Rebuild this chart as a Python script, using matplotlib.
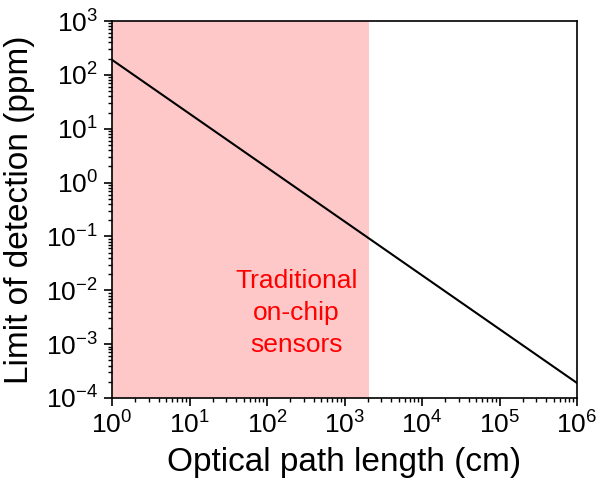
import numpy as np
import matplotlib.pyplot as plt
from matplotlib.ticker import LogLocator, NullFormatter

plt.rcParams['font.family'] = ['Liberation Sans', 'DejaVu Sans']
plt.rcParams['axes.unicode_minus'] = False
plt.rcParams['mathtext.fontset'] = 'custom'
plt.rcParams['mathtext.rm'] = 'Liberation Sans'

# data
path_len = [1, 1e6]          # cm
lod = [190, 1.9e-4]          # ppm
shade_x = [1, 2100]          # traditional on-chip sensor range

fig = plt.figure(figsize=(5.96, 4.8), dpi=100)
ax = fig.add_axes([112 / 596, 82 / 480, 465 / 596, 377 / 480])

ax.axvspan(shade_x[0], shade_x[1], color='#ffc8c8', lw=0, zorder=0)
ax.plot(path_len, lod, color='black', lw=1.5)

ax.set_xscale('log')
ax.set_yscale('log')
ax.set_xlim(1, 1e6)
ax.set_ylim(1e-4, 1e3)

ax.xaxis.set_major_locator(LogLocator(base=10, numticks=20))
ax.yaxis.set_major_locator(LogLocator(base=10, numticks=20))
ax.xaxis.set_minor_locator(LogLocator(base=10, subs=np.arange(2, 10), numticks=20))
ax.yaxis.set_minor_locator(LogLocator(base=10, subs=np.arange(2, 10), numticks=20))
ax.xaxis.set_minor_formatter(NullFormatter())
ax.yaxis.set_minor_formatter(NullFormatter())

ax.tick_params(which='major', direction='out', length=6, width=1.2, labelsize=19, pad=4)
ax.tick_params(which='minor', direction='out', length=3, width=1)
for s in ax.spines.values():
    s.set_linewidth(1.2)

ax.set_xlabel('Optical path length (cm)', fontsize=24, labelpad=6)
ax.set_ylabel('Limit of detection (ppm)', fontsize=24, labelpad=8)

ax.text(241, 3.8e-3, 'Traditional\non-chip\nsensors', color='red', fontsize=19,
        ha='center', va='center', linespacing=1.4)

fig.savefig('out.png', dpi=100)
